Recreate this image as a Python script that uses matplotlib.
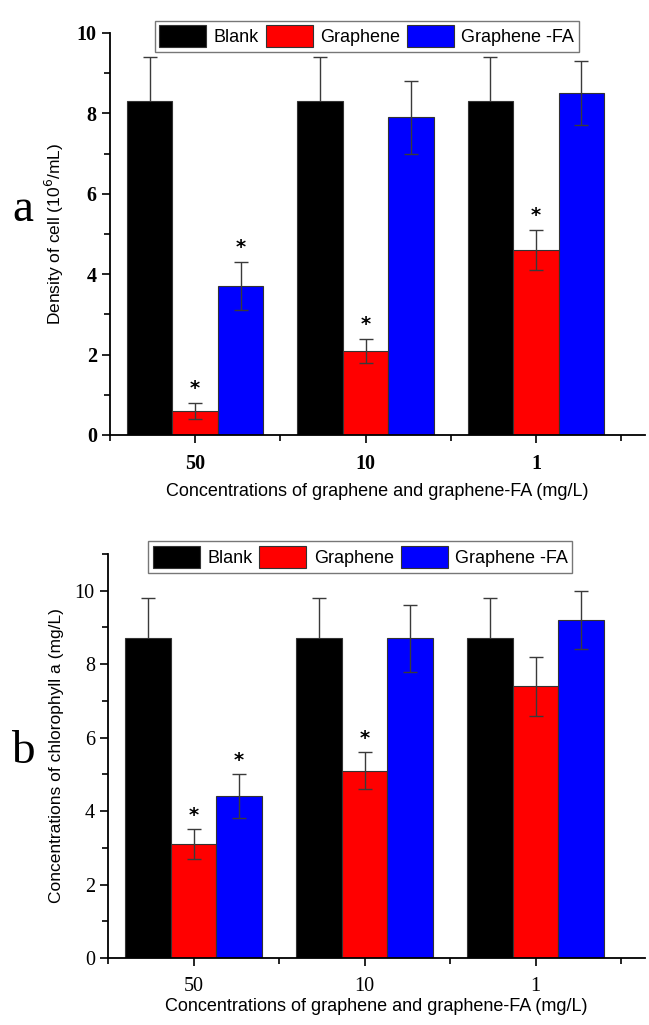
import matplotlib
matplotlib.use("Agg")
import matplotlib.pyplot as plt
import numpy as np
from matplotlib.ticker import MultipleLocator, FixedLocator

groups = ["50", "10", "1"]
series = ["Blank", "Graphene", "Graphene -FA"]
colors = ["#000000", "#ff0000", "#0000ff"]

# panel a: density of cell (10^6/mL)
a_blank = [8.3, 8.3, 8.3]
a_blank_err = [1.1, 1.1, 1.1]
a_gr = [0.6, 2.1, 4.6]
a_gr_err = [0.2, 0.3, 0.5]
a_fa = [3.7, 7.9, 8.5]
a_fa_err = [0.6, 0.9, 0.8]
a_star_gr = [True, True, True]
a_star_fa = [True, False, False]

# panel b: chlorophyll a (mg/L)
b_blank = [8.7, 8.7, 8.7]
b_blank_err = [1.1, 1.1, 1.1]
b_gr = [3.1, 5.1, 7.4]
b_gr_err = [0.4, 0.5, 0.8]
b_fa = [4.4, 8.7, 9.2]
b_fa_err = [0.6, 0.9, 0.8]
b_star_gr = [True, True, False]
b_star_fa = [True, False, False]

fig = plt.figure(figsize=(6.49, 10.25), dpi=100)
plt.rcParams['font.family'] = ['Liberation Sans', 'DejaVu Sans']

def panel(rect, vals, errs, stars, ylim, ylabel, letter, bold_ticks, letter_y,
          leg_dx, xlabelpad):
    ax = fig.add_axes(rect)
    x = np.arange(1, len(groups) + 1)
    w = 0.267
    offsets = [-w, 0, w]
    for i in range(3):
        ax.bar(x + offsets[i], vals[i], width=w, color=colors[i],
               edgecolor='#333333', linewidth=0.8, label=series[i], zorder=2)
        ax.errorbar(x + offsets[i], vals[i], yerr=errs[i], fmt='none',
                    ecolor='#3a3a3a', elinewidth=1.0, capsize=5, capthick=1.0,
                    zorder=1 if i == 0 else 3)
        for j in range(len(groups)):
            if stars[i][j]:
                ax.text(x[j] + offsets[i], vals[i][j] + errs[i][j] + 0.12, '*',
                        ha='center', va='bottom', fontsize=14, fontweight='bold',
                        family='DejaVu Sans', zorder=4)
    ax.set_xlim(0.5, 3.64)
    ax.set_ylim(*ylim)
    for s in ['top', 'right']:
        ax.spines[s].set_visible(False)
    for s in ['left', 'bottom']:
        ax.spines[s].set_linewidth(1.3)
    ax.set_xticks(x)
    ax.set_xticklabels(groups)
    ax.xaxis.set_minor_locator(FixedLocator([0.5, 1.5, 2.5, 3.5]))
    ax.yaxis.set_major_locator(MultipleLocator(2))
    ax.yaxis.set_minor_locator(MultipleLocator(1))
    ax.tick_params(axis='both', which='major', direction='out', length=6, width=1.2)
    ax.tick_params(axis='both', which='minor', direction='out', length=4, width=1.2)
    ax.tick_params(axis='x', which='major', pad=8)
    for lab in ax.get_xticklabels() + ax.get_yticklabels():
        lab.set_family('Liberation Serif')
        lab.set_fontsize(14.5)
        if bold_ticks:
            lab.set_fontweight('bold')
    ax.set_xlabel('Concentrations of graphene and graphene-FA (mg/L)', fontsize=13,
                  labelpad=xlabelpad)
    ax.set_ylabel(ylabel, fontsize=12.5, labelpad=8)
    leg = ax.legend(loc='upper center', bbox_to_anchor=(0.5 + leg_dx, 1.04), ncol=3,
                    frameon=True, fancybox=False, fontsize=13, handlelength=2.6,
                    handleheight=1.5, handletextpad=0.4, columnspacing=0.4,
                    borderpad=0.25, borderaxespad=0.2)
    leg.get_frame().set_edgecolor('#555555')
    leg.get_frame().set_linewidth(1.0)
    fig.text(23 / 649, letter_y, letter, fontsize=34, family='Liberation Serif',
             ha='center', va='center')
    return ax

ax1 = panel([110 / 649, 590 / 1025, 535 / 649, 402 / 1025],
            [a_blank, a_gr, a_fa], [a_blank_err, a_gr_err, a_fa_err],
            [[False] * 3, a_star_gr, a_star_fa], (0, 10),
            'Density of cell (10$^{6}$/mL)', 'a', True, 1 - 210 / 1025, -0.02, 6)
ax2 = panel([108 / 649, 67 / 1025, 537 / 649, 404 / 1025],
            [b_blank, b_gr, b_fa], [b_blank_err, b_gr_err, b_fa_err],
            [[False] * 3, b_star_gr, b_star_fa], (0, 11),
            'Concentrations of chlorophyll a (mg/L)', 'b', False, 1 - 752 / 1025, -0.03, 1)

fig.savefig('out.png', dpi=100)
